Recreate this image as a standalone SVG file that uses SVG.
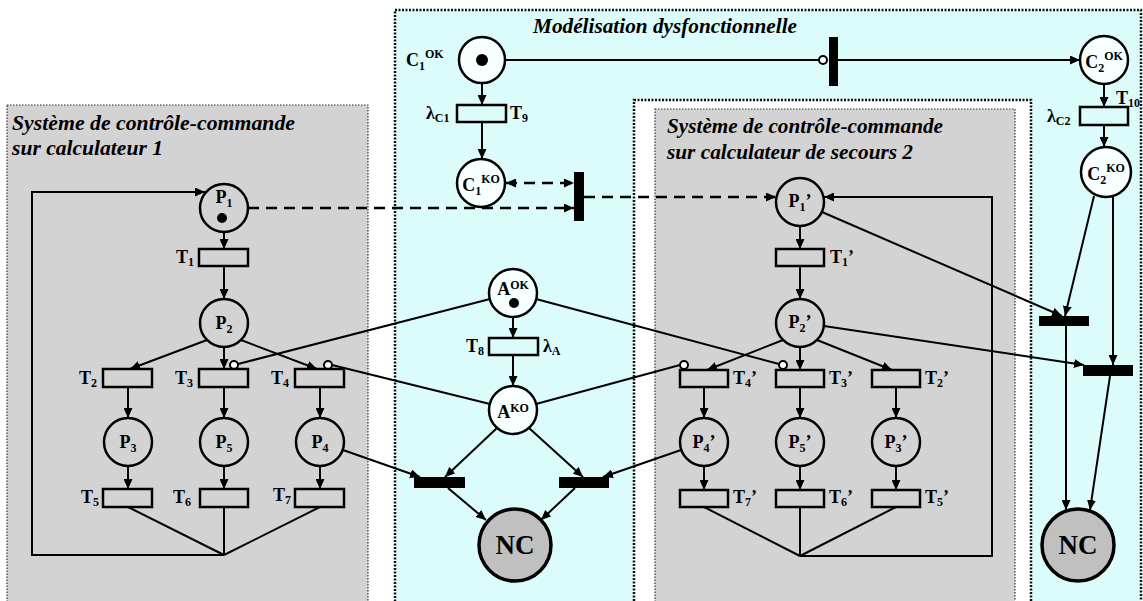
<svg xmlns="http://www.w3.org/2000/svg" width="1143" height="601" viewBox="0 0 1143 601">
<defs>
<marker id="arr" markerUnits="userSpaceOnUse" markerWidth="10" markerHeight="9" refX="10" refY="4.5" orient="auto"><path d="M0,0 L10,4.5 L0,9 z" fill="#000"/></marker>
<marker id="arrS" markerUnits="userSpaceOnUse" markerWidth="10" markerHeight="9" refX="10" refY="4.5" orient="auto-start-reverse"><path d="M0,0 L10,4.5 L0,9 z" fill="#000"/></marker>
<style>
.ln{stroke:#000;stroke-width:2;fill:none}
.ar{marker-end:url(#arr)}
.dash{stroke:#000;stroke-width:2.5;fill:none;stroke-dasharray:11 7}
.pl{fill:none;stroke:#000;stroke-width:2.5}
.plc{fill:#f7ffff;stroke:#000;stroke-width:2.5}
.tr{fill:none;stroke:#000;stroke-width:2.5}
.bar{fill:#000}
.inh{fill:#fff;stroke:#000;stroke-width:2}
.nc{fill:#c0c0c0;stroke:#000;stroke-width:3.5}
.t{font-family:"Liberation Serif","Times New Roman",serif;font-weight:bold;font-size:18px;fill:#000}
.s{font-size:12px}
.ttl{font-family:"Liberation Serif","Times New Roman",serif;font-weight:bold;font-style:italic;font-size:20px;fill:#000}
.nct{font-size:27px}
.thick{stroke:#111;stroke-width:2.5;stroke-dasharray:2 1.5}
.thin{stroke:#333;stroke-width:1.2;stroke-dasharray:1.5 1.5}
</style>
</defs>

<g id="boxes">
<rect x="7" y="105" width="361" height="510" fill="#d3d3d3" class="thin"/>
<rect x="395" y="10" width="746" height="605" fill="#dcfcfc" class="thick"/>
<rect x="634" y="100" width="397" height="515" fill="#ffffff" class="thick"/>
<rect x="655" y="109" width="360" height="506" fill="#d3d3d3" class="thin"/>
<text class="ttl" x="533" y="33" textLength="264" lengthAdjust="spacingAndGlyphs">Modélisation dysfonctionnelle</text>
<text class="ttl" x="12" y="130" textLength="283" lengthAdjust="spacingAndGlyphs">Système de contrôle-commande</text>
<text class="ttl" x="12" y="155" textLength="151" lengthAdjust="spacingAndGlyphs">sur calculateur 1</text>
<text class="ttl" x="667" y="133" textLength="276" lengthAdjust="spacingAndGlyphs">Système de contrôle-commande</text>
<text class="ttl" x="667" y="159" textLength="246" lengthAdjust="spacingAndGlyphs">sur calculateur de secours 2</text>
</g>

<g id="connectors">
<line class="ln" x1="505" y1="60" x2="819" y2="60"/>
<circle class="inh" cx="823" cy="60" r="4"/>
<line class="ln ar" x1="838" y1="60" x2="1080" y2="60"/>
<line class="ln ar" x1="482" y1="83" x2="482" y2="105"/>
<line class="ln ar" x1="482" y1="122" x2="482" y2="159"/>
<line class="dash" x1="506" y1="183" x2="574" y2="183" marker-start="url(#arrS)" marker-end="url(#arrS)"/>
<line class="dash ar" x1="248" y1="208" x2="574" y2="208"/>
<line class="dash ar" x1="584" y1="197" x2="776" y2="197"/>
<line class="ln ar" x1="1104" y1="84" x2="1104" y2="107"/>
<line class="ln ar" x1="1104" y1="125" x2="1104" y2="147"/>
<line class="ln ar" x1="1094" y1="196" x2="1065" y2="316"/>
<line class="ln ar" x1="1113" y1="197" x2="1113" y2="365"/>
<line class="ln ar" x1="822" y1="212" x2="1062" y2="316"/>
<line class="ln ar" x1="824" y1="326" x2="1084" y2="365"/>
<line class="ln ar" x1="1066" y1="326" x2="1066" y2="510"/>
<line class="ln ar" x1="1110" y1="376" x2="1090" y2="510"/>
<line class="ln ar" x1="224" y1="232" x2="224" y2="249"/>
<line class="ln ar" x1="224" y1="266" x2="224" y2="299"/>
<line class="ln ar" x1="207" y1="340" x2="130" y2="369"/>
<line class="ln ar" x1="224" y1="347" x2="224" y2="369"/>
<line class="ln ar" x1="241" y1="340" x2="317" y2="369"/>
<line class="ln ar" x1="128" y1="387" x2="128" y2="418"/>
<line class="ln ar" x1="224" y1="387" x2="224" y2="418"/>
<line class="ln ar" x1="320" y1="387" x2="320" y2="418"/>
<line class="ln ar" x1="128" y1="466" x2="128" y2="489"/>
<line class="ln ar" x1="224" y1="466" x2="224" y2="489"/>
<line class="ln ar" x1="320" y1="466" x2="320" y2="489"/>
<line class="ln" x1="128" y1="507" x2="224" y2="555"/>
<line class="ln" x1="224" y1="507" x2="224" y2="555"/>
<line class="ln" x1="320" y1="507" x2="224" y2="555"/>
<polyline class="ln ar" points="224,555 32,555 32,192 205,192"/>
<line class="ln ar" x1="800" y1="226" x2="800" y2="249"/>
<line class="ln ar" x1="800" y1="266" x2="800" y2="299"/>
<line class="ln ar" x1="783" y1="340" x2="707" y2="370"/>
<line class="ln ar" x1="800" y1="347" x2="800" y2="370"/>
<line class="ln ar" x1="817" y1="340" x2="892" y2="370"/>
<line class="ln ar" x1="704" y1="387" x2="704" y2="418"/>
<line class="ln ar" x1="800" y1="387" x2="800" y2="418"/>
<line class="ln ar" x1="896" y1="387" x2="896" y2="418"/>
<line class="ln ar" x1="704" y1="466" x2="704" y2="490"/>
<line class="ln ar" x1="800" y1="466" x2="800" y2="490"/>
<line class="ln ar" x1="896" y1="466" x2="896" y2="490"/>
<line class="ln" x1="704" y1="507" x2="800" y2="556"/>
<line class="ln" x1="800" y1="507" x2="800" y2="556"/>
<line class="ln" x1="896" y1="507" x2="800" y2="556"/>
<polyline class="ln ar" points="800,556 992,556 992,197 824,197"/>
<line class="ln ar" x1="513" y1="317" x2="513" y2="338"/>
<line class="ln ar" x1="513" y1="355" x2="513" y2="386"/>
<line class="ln" x1="490" y1="299" x2="238" y2="364"/>
<circle class="inh" cx="234" cy="365" r="4"/>
<line class="ln" x1="536" y1="299" x2="779" y2="364"/>
<circle class="inh" cx="783" cy="365" r="4"/>
<line class="ln" x1="490" y1="404" x2="332" y2="365"/>
<circle class="inh" cx="328" cy="365" r="4"/>
<line class="ln" x1="536" y1="404" x2="680" y2="365"/>
<circle class="inh" cx="684" cy="365" r="4"/>
<line class="ln ar" x1="497" y1="428" x2="445" y2="477"/>
<line class="ln ar" x1="343" y1="450" x2="420" y2="477"/>
<line class="ln ar" x1="529" y1="428" x2="583" y2="477"/>
<line class="ln ar" x1="681" y1="450" x2="603" y2="477"/>
<line class="ln ar" x1="448" y1="488" x2="486" y2="520"/>
<line class="ln ar" x1="575" y1="488" x2="541" y2="520"/>
</g>

<g id="C1OK"><circle class="plc" cx="482" cy="60" r="23"/><circle cx="482" cy="60" r="6"/>
<text class="t" x="406" y="66">C<tspan class="s" dy="4">1</tspan><tspan class="s" dy="-12">OK</tspan></text></g>
<g id="T9"><rect class="tr" x="457" y="105" width="49" height="17"/>
<text class="t" x="426" y="119">λ<tspan class="s" dy="3">C1</tspan></text>
<text class="t" x="510" y="119">T<tspan class="s" dy="3">9</tspan></text></g>
<g id="C1KO"><circle class="plc" cx="481" cy="183" r="24"/>
<text class="t" x="481" y="191" text-anchor="middle">C<tspan class="s" dy="4">1</tspan><tspan class="s" dy="-12">KO</tspan></text></g>
<g id="Tc"><rect class="bar" x="829" y="37" width="9" height="49"/></g>
<g id="Td"><rect class="bar" x="574" y="172" width="10" height="49"/></g>
<g id="C2OK"><circle class="plc" cx="1104" cy="60" r="24"/>
<text class="t" x="1104" y="68" text-anchor="middle">C<tspan class="s" dy="4">2</tspan><tspan class="s" dy="-12">OK</tspan></text></g>
<g id="T10"><rect class="tr" x="1080" y="107" width="48" height="18"/>
<text class="t" x="1116" y="104">T<tspan class="s" dy="3">10</tspan></text>
<text class="t" x="1047" y="122">λ<tspan class="s" dy="3">C2</tspan></text></g>
<g id="C2KO"><circle class="plc" cx="1106" cy="172" r="25"/>
<text class="t" x="1106" y="180" text-anchor="middle">C<tspan class="s" dy="4">2</tspan><tspan class="s" dy="-12">KO</tspan></text></g>
<g id="Tu"><rect class="bar" x="1039" y="316" width="50" height="10"/></g>
<g id="Tl"><rect class="bar" x="1083" y="365" width="50" height="11"/></g>
<g id="NC2"><circle class="nc" cx="1078" cy="545" r="36"/><text class="t nct" x="1078" y="554" text-anchor="middle">NC</text></g>

<g id="P1"><circle class="pl" cx="224" cy="208" r="24"/><circle cx="222" cy="218" r="5"/>
<text class="t" x="224" y="203" text-anchor="middle">P<tspan class="s" dy="4">1</tspan></text></g>
<g id="T1"><rect class="tr" x="199" y="249" width="49" height="17"/><text class="t" x="176" y="263">T<tspan class="s" dy="3">1</tspan></text></g>
<g id="P2"><circle class="pl" cx="224" cy="323" r="24"/><text class="t" x="224" y="329" text-anchor="middle">P<tspan class="s" dy="4">2</tspan></text></g>
<g id="T2"><rect class="tr" x="103" y="369" width="49" height="18"/><text class="t" x="79" y="384">T<tspan class="s" dy="3">2</tspan></text></g>
<g id="T3"><rect class="tr" x="199" y="369" width="49" height="18"/><text class="t" x="175" y="384">T<tspan class="s" dy="3">3</tspan></text></g>
<g id="T4"><rect class="tr" x="295" y="369" width="49" height="18"/><text class="t" x="271" y="384">T<tspan class="s" dy="3">4</tspan></text></g>
<g id="P3"><circle class="pl" cx="128" cy="442" r="24"/><text class="t" x="128" y="448" text-anchor="middle">P<tspan class="s" dy="4">3</tspan></text></g>
<g id="P5"><circle class="pl" cx="224" cy="442" r="24"/><text class="t" x="224" y="448" text-anchor="middle">P<tspan class="s" dy="4">5</tspan></text></g>
<g id="P4"><circle class="pl" cx="320" cy="442" r="24"/><text class="t" x="320" y="448" text-anchor="middle">P<tspan class="s" dy="4">4</tspan></text></g>
<g id="T5"><rect class="tr" x="103" y="489" width="49" height="18"/><text class="t" x="81" y="503">T<tspan class="s" dy="3">5</tspan></text></g>
<g id="T6"><rect class="tr" x="200" y="489" width="48" height="18"/><text class="t" x="173" y="503">T<tspan class="s" dy="3">6</tspan></text></g>
<g id="T7"><rect class="tr" x="295" y="489" width="49" height="18"/><text class="t" x="273" y="501">T<tspan class="s" dy="3">7</tspan></text></g>

<g id="AOK"><circle class="plc" cx="513" cy="293" r="24"/><circle cx="514" cy="303" r="5"/>
<text class="t" x="513" y="295" text-anchor="middle">A<tspan class="s" dy="-6">OK</tspan></text></g>
<g id="T8"><rect class="tr" x="489" y="338" width="49" height="17"/>
<text class="t" x="466" y="352">T<tspan class="s" dy="3">8</tspan></text>
<text class="t" x="543" y="352">λ<tspan class="s" dy="3">A</tspan></text></g>
<g id="AKO"><circle class="plc" cx="513" cy="410" r="24"/>
<text class="t" x="513" y="418" text-anchor="middle">A<tspan class="s" dy="-6">KO</tspan></text></g>
<g id="Ta"><rect class="bar" x="414" y="477" width="51" height="11"/></g>
<g id="Tb"><rect class="bar" x="559" y="477" width="50" height="11"/></g>
<g id="NC1"><circle class="nc" cx="515" cy="545" r="36"/><text class="t nct" x="515" y="554" text-anchor="middle">NC</text></g>

<g id="P1p"><circle class="pl" cx="800" cy="202" r="24"/><text class="t" x="800" y="207" text-anchor="middle">P<tspan class="s" dy="4">1</tspan><tspan dy="-4">’</tspan></text></g>
<g id="T1p"><rect class="tr" x="776" y="249" width="48" height="17"/><text class="t" x="830" y="263">T<tspan class="s" dy="3">1</tspan><tspan dy="-3">’</tspan></text></g>
<g id="P2p"><circle class="pl" cx="800" cy="323" r="24"/><text class="t" x="800" y="328" text-anchor="middle">P<tspan class="s" dy="4">2</tspan><tspan dy="-4">’</tspan></text></g>
<g id="T4p"><rect class="tr" x="680" y="370" width="48" height="17"/><text class="t" x="733" y="384">T<tspan class="s" dy="3">4</tspan><tspan dy="-3">’</tspan></text></g>
<g id="T3p"><rect class="tr" x="776" y="370" width="48" height="17"/><text class="t" x="829" y="384">T<tspan class="s" dy="3">3</tspan><tspan dy="-3">’</tspan></text></g>
<g id="T2p"><rect class="tr" x="872" y="370" width="48" height="17"/><text class="t" x="925" y="384">T<tspan class="s" dy="3">2</tspan><tspan dy="-3">’</tspan></text></g>
<g id="P4p"><circle class="pl" cx="704" cy="442" r="24"/><text class="t" x="704" y="448" text-anchor="middle">P<tspan class="s" dy="4">4</tspan><tspan dy="-4">’</tspan></text></g>
<g id="P5p"><circle class="pl" cx="800" cy="442" r="24"/><text class="t" x="800" y="448" text-anchor="middle">P<tspan class="s" dy="4">5</tspan><tspan dy="-4">’</tspan></text></g>
<g id="P3p"><circle class="pl" cx="896" cy="442" r="24"/><text class="t" x="896" y="448" text-anchor="middle">P<tspan class="s" dy="4">3</tspan><tspan dy="-4">’</tspan></text></g>
<g id="T7p"><rect class="tr" x="680" y="490" width="48" height="17"/><text class="t" x="733" y="503">T<tspan class="s" dy="3">7</tspan><tspan dy="-3">’</tspan></text></g>
<g id="T6p"><rect class="tr" x="776" y="490" width="48" height="17"/><text class="t" x="829" y="503">T<tspan class="s" dy="3">6</tspan><tspan dy="-3">’</tspan></text></g>
<g id="T5p"><rect class="tr" x="872" y="490" width="48" height="17"/><text class="t" x="925" y="503">T<tspan class="s" dy="3">5</tspan><tspan dy="-3">’</tspan></text></g>
</svg>
